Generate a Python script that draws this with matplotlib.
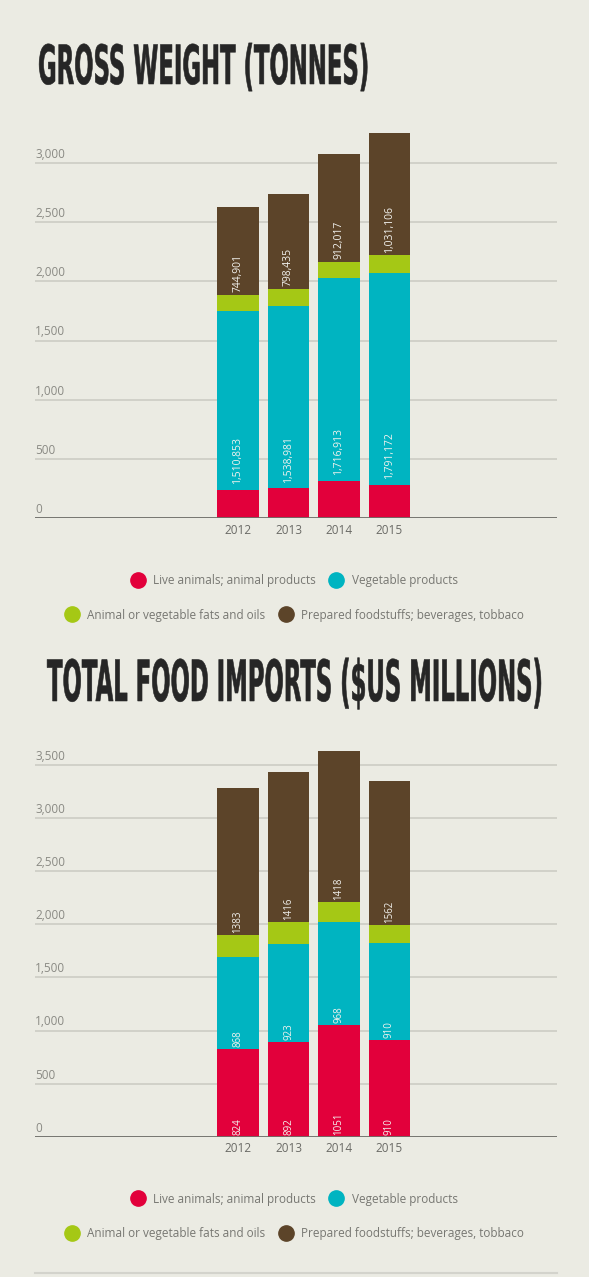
import matplotlib
matplotlib.use('Agg')
import matplotlib.pyplot as plt
import numpy as np
from matplotlib.lines import Line2D
from matplotlib.text import Text
from matplotlib.transforms import Affine2D, Bbox
from matplotlib.patheffects import AbstractPathEffect

# data
years = ['2012', '2013', '2014', '2015']
categories = ['Live animals; animal products', 'Vegetable products',
              'Animal or vegetable fats and oils', 'Prepared foodstuffs; beverages, tobbaco']

# gross weight, thousand tonnes (bar heights)
weight_live = [240, 252, 313, 280]
weight_veg = [1511, 1539, 1717, 1791]
weight_fats = [133, 147, 136, 148]
weight_prep = [745, 798, 912, 1031]
weight_veg_labels = ['1,510,853', '1,538,981', '1,716,913', '1,791,172']
weight_prep_labels = ['744,901', '798,435', '912,017', '1,031,106']
weight_ticks = [0, 500, 1000, 1500, 2000, 2500, 3000]

# total food imports, $US millions (bar heights)
imports_live = [824, 892, 1051, 910]
imports_veg = [868, 923, 968, 910]
imports_fats = [211, 204, 192, 171]
imports_prep = [1383, 1416, 1418, 1358]
imports_live_labels = ['824', '892', '1051', '910']
imports_veg_labels = ['868', '923', '968', '910']
imports_prep_labels = ['1383', '1416', '1418', '1562']
imports_ticks = [0, 500, 1000, 1500, 2000, 2500, 3000, 3500]

bg = '#ebebe3'
colors = ['#e2003b', '#00b4c1', '#a5c815', '#5c4429']
W, H = 589, 1277


class Squeeze(AbstractPathEffect):
    # stretches the glyphs tall and narrow, like a condensed headline face
    def __init__(self, sx, sy=1.0, stroke=0.0):
        super().__init__()
        self.sx = sx
        self.sy = sy
        self.stroke = stroke

    def draw_path(self, renderer, gc, tpath, affine, rgbFace=None):
        tr = Affine2D().scale(self.sx, self.sy) + affine
        gc0 = renderer.new_gc()
        gc0.copy_properties(gc)
        if self.stroke:
            gc0.set_linewidth(self.stroke)
            gc0.set_foreground(rgbFace)
        renderer.draw_path(gc0, tpath, tr, rgbFace)
        gc0.restore()


class CondensedText(Text):
    # left/baseline anchored text whose extent follows the squeeze
    sx = 1.0
    sy = 1.0

    def get_window_extent(self, renderer=None, dpi=None):
        bb = super().get_window_extent(renderer, dpi)
        if self.sx == 1.0 and self.sy == 1.0:
            return bb
        x0, base = self.get_transform().transform(self.get_position())
        return Bbox([[x0 + (bb.x0 - x0) * self.sx, base + (bb.y0 - base) * self.sy],
                     [x0 + (bb.x1 - x0) * self.sx, base + (bb.y1 - base) * self.sy]])


def headline(fig, text, x_px, base_px, width_px, size):
    # set small, then stretched up vertically
    stretch = 2.5
    t = CondensedText(x_px / W, 1 - base_px / H, text, ha='left', va='baseline',
                      fontsize=size / stretch, fontweight='bold', family='DejaVu Sans',
                      color='#262626', transform=fig.transFigure)
    fig.add_artist(t)
    r = fig.canvas.get_renderer()
    natural = t.get_window_extent(renderer=r).width
    t.sx, t.sy = width_px / natural, stretch
    t.set_path_effects([Squeeze(t.sx, t.sy, stroke=0.4)])
    return t


def panel(ax, segs, ymax, ticks, labels):
    x = np.arange(len(years))
    ax.set_facecolor(bg)
    bottom = np.zeros(len(years))
    bottoms = []
    for vals, c in zip(segs, colors):
        ax.bar(x, vals, 0.83, bottom=bottom, color=c, zorder=2)
        bottoms.append(bottom.copy())
        bottom = bottom + np.array(vals)

    # value labels inside segments
    for seg_idx, texts, pad, fs in labels:
        for i, s in enumerate(texts):
            ax.annotate(s, xy=(x[i], bottoms[seg_idx][i]), xytext=(0, pad),
                        textcoords='offset points', rotation=90, ha='center', va='bottom',
                        fontsize=fs, color='#f2f2ee', family='Open Sans', zorder=4)

    ax.set_xlim(-4.02, 6.317)
    ax.set_ylim(0, ymax)
    ax.set_yticks(ticks)
    ax.yaxis.grid(True, color='#cfcfc7', lw=1.3)
    ax.set_axisbelow(True)
    ax.tick_params(axis='y', length=0, labelleft=False)
    for t in ticks:
        ax.annotate(f'{t:,}', xy=(0, t), xycoords=ax.get_yaxis_transform(),
                    xytext=(0, 1.5), textcoords='offset points', ha='left', va='bottom',
                    fontsize=8.5, color='#8a8a84', family='Open Sans')
    ax.axhline(0, color='#6e6e69', lw=2, zorder=3)
    ax.set_xticks(x, years)
    ax.tick_params(axis='x', length=0, pad=4, labelsize=8.5, labelcolor='#6a6a66')
    for lab in ax.get_xticklabels():
        lab.set_family('Open Sans')
    for sp in ax.spines.values():
        sp.set_visible(False)


def legend_rows(fig, y1_px, y2_px):
    handles = [Line2D([], [], marker='o', ls='none', markersize=11,
                      markerfacecolor=c, markeredgecolor=c) for c in colors]
    kw = dict(loc='center', ncol=2, frameon=False, handlelength=1.3,
              handletextpad=0.65, columnspacing=1.1, labelcolor='#777772',
              prop={'family': 'Open Sans', 'size': 8.5})
    fig.legend(handles[:2], categories[:2], bbox_to_anchor=(0.499, 1 - y1_px / H), **kw)
    fig.legend(handles[2:], categories[2:], bbox_to_anchor=(0.499, 1 - y2_px / H), **kw)


fig = plt.figure(figsize=(W / 100, H / 100), dpi=100, facecolor=bg)

# gross weight
ax1 = fig.add_axes([35 / W, 1 - 518 / H, 522 / W, 3300 * 0.11833 / H])
panel(ax1, [weight_live, weight_veg, weight_fats, weight_prep], 3300, weight_ticks,
      [(1, weight_veg_labels, 4, 7.5), (3, weight_prep_labels, 2, 7.5)])

# total food imports
ax2 = fig.add_axes([35 / W, 1 - 1136.7 / H, 522 / W, 3700 * 0.1062 / H])
panel(ax2, [imports_live, imports_veg, imports_fats, imports_prep], 3700, imports_ticks,
      [(0, imports_live_labels, 1, 7), (1, imports_veg_labels, 1.5, 7),
       (3, imports_prep_labels, 1.5, 7)])

headline(fig, 'GROSS WEIGHT (TONNES)', 38, 84, 331, 39)
headline(fig, 'TOTAL FOOD IMPORTS ($US MILLIONS)', 47, 701, 495, 41)

legend_rows(fig, 580.7, 615)
legend_rows(fig, 1199, 1233.4)

fig.add_artist(Line2D([35 / W, 557 / W], [1 - 1273 / H] * 2, transform=fig.transFigure,
                      color='#d3d3cc', lw=1.5))

fig.savefig('out.png', dpi=100, facecolor=bg)
